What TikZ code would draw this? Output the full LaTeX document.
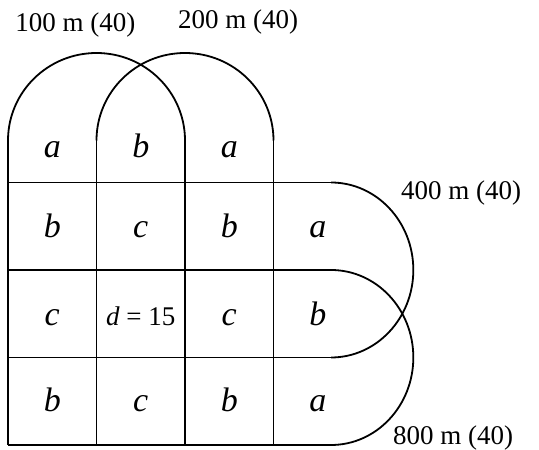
\documentclass[tikz,border=0pt]{standalone}
\usepackage{fontspec}
\setmainfont{Liberation Serif}
\usetikzlibrary{positioning}
\tikzset{
  plotline/.style={line width=1.8pt,line join=round},
  plotletter/.style={font=\fontsize{34}{34}\selectfont\itshape,inner sep=0pt,anchor=base},
  doselabel/.style={font=\fontsize{27}{27}\selectfont,inner sep=0pt}
}
\begin{document}
\begin{tikzpicture}[x=88.5pt,y=87.5pt]
  \useasboundingbox (-8pt,-5pt) rectangle (531pt,445pt);
  % grid of plots
  \foreach \r in {0,...,3}
    \draw[plotline] (0,\r) -- (3.65,\r);
  \foreach \c in {0,...,3}
    \draw[plotline] (\c,0) -- (\c,3.48);
  % 100 m and 200 m rings
  \draw[plotline] (0,3.48) arc[start angle=180,end angle=0,radius=1];
  \draw[plotline] (1,3.48) arc[start angle=180,end angle=0,radius=1];
  % 400 m and 800 m rings
  \draw[plotline] (3.65,3) arc[start angle=90,end angle=-90,x radius=0.93,y radius=1];
  \draw[plotline] (3.65,2) arc[start angle=90,end angle=-90,x radius=0.93,y radius=1];
  % treatments
  \foreach \c/\r/\t in {0/3.29/a,1/3.29/b,2/3.29/a,
                        0/2.37/b,1/2.37/c,2/2.37/b,3/2.37/a,
                        0/1.37/c,2/1.37/c,3/1.37/b,
                        0/0.38/b,1/0.38/c,2/0.38/b,3/0.38/a}
    \node[plotletter] (t-\c-\r) at (\c+0.5,\r) {\t};
  \node[doselabel,anchor=base] (dose) at (1.5,1.37) {\textit{d} = 15};
  % ring labels
  \node[doselabel] (ring100) at (0.76,4.8) {100 m (40)};
  \node[doselabel] (ring200) at (2.6,4.83) {200 m (40)};
  \node[doselabel] (ring400) at (5.12,2.88) {400 m (40)};
  \node[doselabel] (ring800) at (5.03,0.08) {800 m (40)};
\end{tikzpicture}
\end{document}
